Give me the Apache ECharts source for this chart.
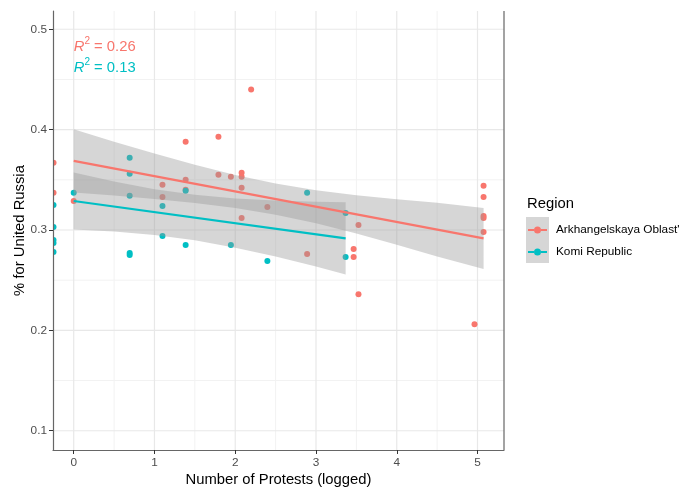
<!DOCTYPE html>
<html><head><meta charset="utf-8">
<script src="https://cdn.jsdelivr.net/npm/echarts@6/dist/echarts.min.js"></script>
<style>html,body{margin:0;padding:0;background:#fff}#c{width:693px;height:488px}</style>
</head><body><div id="c"></div>
<script>
// ---- tick labels / grid values ----
const xTicks = [0, 1, 2, 3, 4, 5];
const yTicks = [0.1, 0.2, 0.3, 0.4, 0.5];
const xMinor = [0.5, 1.5, 2.5, 3.5, 4.5];
const yMinor = [0.15, 0.25, 0.35, 0.45];

// ---- regions ----
const regions = ["Arkhangelskaya Oblast'", "Komi Republic"];

// ---- Arkhangelskaya Oblast' points ----
const arkX = [-0.25, -0.25, 0, 1.099, 1.099, 1.386, 1.386, 1.386, 1.792, 1.792, 1.946,
  2.079, 2.079, 2.079, 2.079, 2.197, 2.398, 2.89, 3.466, 3.466, 3.526, 3.526,
  4.963, 5.075, 5.075, 5.075, 5.075, 5.075];
const arkY = [0.367, 0.337, 0.329, 0.345, 0.333, 0.388, 0.350, 0.340, 0.393, 0.355, 0.353,
  0.357, 0.353, 0.342, 0.312, 0.440, 0.323, 0.276, 0.281, 0.273, 0.305, 0.236,
  0.206, 0.344, 0.333, 0.314, 0.312, 0.298];

// ---- Komi Republic points ----
const komiX = [-0.25, -0.25, -0.25, -0.25, -0.25, 0, 0.693, 0.693, 0.693, 0.693, 0.693,
  1.099, 1.099, 1.386, 1.386, 1.946, 2.398, 2.89, 3.367, 3.367];
const komiY = [0.325, 0.303, 0.290, 0.287, 0.278, 0.337, 0.372, 0.356, 0.334, 0.277, 0.275,
  0.324, 0.294, 0.339, 0.285, 0.285, 0.269, 0.337, 0.317, 0.273];

// ---- fitted lines ----
const arkFitX = [0, 5.075];
const arkFitY = [0.3688, 0.2917];
const komiFitX = [0, 3.367];
const komiFitY = [0.3289, 0.2917];

// ---- confidence bands ----
const arkBandX  = [0, 0.5, 1, 1.5, 2, 2.5, 3, 3.5, 4, 4.5, 5.075];
const arkBandLo = [0.3373, 0.3344, 0.3310, 0.3270, 0.3220, 0.3153, 0.3068, 0.2966, 0.2854, 0.2736, 0.2612];
const arkBandHi = [0.4003, 0.3880, 0.3762, 0.3650, 0.3548, 0.3463, 0.3396, 0.3346, 0.3306, 0.3272, 0.3220];
const komiBandX  = [0, 0.5, 1, 1.5, 2, 2.5, 3, 3.367];
const komiBandLo = [0.3006, 0.2986, 0.2951, 0.2897, 0.2823, 0.2735, 0.2636, 0.2557];
const komiBandHi = [0.3572, 0.3482, 0.3407, 0.3351, 0.3315, 0.3293, 0.3282, 0.3277];

// ---- annotations ----
const annoX = [0, 0];
const annoY = [0.4844, 0.4634];
const annoR2 = ["0.26", "0.13"];

const COLORS = ['#F8766D', '#00BFC4'];
const X_MIN = -0.2565, X_MAX = 5.328, Y_MIN = 0.0808, Y_MAX = 0.5182;
const FONT = 'Liberation Sans, Arial, sans-serif';

function pointSeries(name, xs, ys, color) {
  return {
    type: 'custom', name: name, clip: true, z: 2,
    itemStyle: { color: color },
    data: xs.map((x, i) => [x, ys[i]]),
    renderItem: function (params, api) {
      const p = api.coord([api.value(0), api.value(1)]);
      return { type: 'circle', shape: { cx: p[0], cy: p[1], r: 3 }, style: { fill: color } };
    }
  };
}
function bandSeries(xs, lo, hi) {
  return {
    type: 'custom', clip: true, z: 3, silent: true,
    data: xs.map((x, i) => [x, lo[i], hi[i]]),
    renderItem: function (params, api) {
      if (params.dataIndex !== 0) return { type: 'group', children: [] };
      const pts = [];
      for (let i = 0; i < xs.length; i++) pts.push(api.coord([xs[i], hi[i]]));
      for (let i = xs.length - 1; i >= 0; i--) pts.push(api.coord([xs[i], lo[i]]));
      return { type: 'polygon', shape: { points: pts }, style: { fill: 'rgba(153,153,153,0.4)' } };
    }
  };
}
function fitSeries(xs, ys, color) {
  return {
    type: 'line', z: 4, silent: true, symbol: 'none',
    lineStyle: { color: color, width: 2.2 },
    data: xs.map((x, i) => [x, ys[i]])
  };
}
function gridSeries(values, dir, color, width) {
  return {
    type: 'custom', z: 1, silent: true,
    data: values.map(v => [v]),
    renderItem: function (params, api) {
      const v = api.value(0);
      const a = dir === 'v' ? api.coord([v, Y_MIN]) : api.coord([X_MIN, v]);
      const b = dir === 'v' ? api.coord([v, Y_MAX]) : api.coord([X_MAX, v]);
      return { type: 'line', shape: { x1: a[0], y1: a[1], x2: b[0], y2: b[1] },
        style: { stroke: color, lineWidth: width } };
    }
  };
}

const chart = echarts.init(document.getElementById('c'));
chart.setOption({
  animation: false,
  backgroundColor: '#fff',
  grid: { left: 53, right: 189, top: 11, bottom: 38, containLabel: false, outerBoundsMode: 'none' },
  xAxis: {
    type: 'value', min: X_MIN, max: X_MAX, z: 6,
    name: 'Number of Protests (logged)', nameLocation: 'middle', nameGap: 22, nameMoveOverlap: false,
    nameTextStyle: { fontFamily: FONT, fontSize: 14.8, color: '#000' },
    axisLine: { show: true, onZero: false, lineStyle: { color: '#666', width: 1.2 } },
    axisTick: { show: true, length: 4, customValues: xTicks, lineStyle: { color: '#333' } },
    axisLabel: { customValues: xTicks, margin: 7, fontFamily: FONT, fontSize: 11.8, color: '#4d4d4d',
      formatter: v => String(v) },
    splitLine: { show: false }
  },
  yAxis: {
    type: 'value', min: Y_MIN, max: Y_MAX, z: 6,
    name: '% for United Russia', nameLocation: 'middle', nameGap: 26, nameMoveOverlap: false,
    nameTextStyle: { fontFamily: FONT, fontSize: 14.8, color: '#000' },
    axisLine: { show: true, onZero: false, lineStyle: { color: '#666', width: 1.2 } },
    axisTick: { show: true, length: 4, customValues: yTicks, lineStyle: { color: '#333' } },
    axisLabel: { customValues: yTicks, margin: 6, fontFamily: FONT, fontSize: 11.8, color: '#4d4d4d',
      formatter: v => v.toFixed(1) },
    splitLine: { show: false }
  },
  legend: {
    orient: 'vertical', left: 523, top: 218, itemWidth: 19, itemHeight: 7, itemGap: 8,
    icon: 'path://M0,2.5 L6,2.5 L6,4.5 L0,4.5 Z M13,2.5 L19,2.5 L19,4.5 L13,4.5 Z M9.5,0 A3.5,3.5 0 1,1 9.5,7 A3.5,3.5 0 1,1 9.5,0 Z',
    textStyle: { fontFamily: FONT, fontSize: 11.8, color: '#000', lineHeight: 14, padding: [0, 0, 0, 4] },
    selectedMode: false,
    data: [
      { name: regions[0], itemStyle: { color: COLORS[0] } },
      { name: regions[1], itemStyle: { color: COLORS[1] } }
    ]
  },
  graphic: [
    { type: 'rect', left: 526, top: 217, z: -1, shape: { width: 23, height: 46 }, style: { fill: '#d6d6d6' } },
    { type: 'text', left: 527, top: 196, style: { text: 'Region', fontFamily: FONT, fontSize: 14.8, fill: '#000' } }
  ],
  series: [
    gridSeries(xMinor, 'v', '#f2f2f2', 1),
    gridSeries(yMinor, 'h', '#f2f2f2', 1),
    gridSeries(xTicks, 'v', '#e8e8e8', 1.2),
    gridSeries(yTicks, 'h', '#e8e8e8', 1.2),
    gridSeries([X_MAX], 'v', '#666', 1.2),
    pointSeries(regions[0], arkX, arkY, COLORS[0]),
    pointSeries(regions[1], komiX, komiY, COLORS[1]),
    bandSeries(arkBandX, arkBandLo, arkBandHi),
    fitSeries(arkFitX, arkFitY, COLORS[0]),
    bandSeries(komiBandX, komiBandLo, komiBandHi),
    fitSeries(komiFitX, komiFitY, COLORS[1]),
    {
      type: 'custom', z: 5, silent: true,
      data: annoX.map((x, i) => [x, annoY[i]]),
      renderItem: function (params, api) {
        const p = api.coord([api.value(0), api.value(1)]);
        const c = COLORS[params.dataIndex];
        return { type: 'text', x: p[0], y: p[1], style: {
          text: '{i|R}{s|2}{n| = ' + annoR2[params.dataIndex] + '}',
          verticalAlign: 'middle', align: 'left', fill: c,
          rich: {
            i: { fontFamily: FONT, fontSize: 14.8, fontStyle: 'italic', fill: c, lineHeight: 18, verticalAlign: 'bottom' },
            s: { fontFamily: FONT, fontSize: 10, fill: c, lineHeight: 18, verticalAlign: 'top' },
            n: { fontFamily: FONT, fontSize: 14.8, fill: c, lineHeight: 18, verticalAlign: 'bottom' }
          }
        } };
      }
    }
  ]
});
</script>
</body></html>
